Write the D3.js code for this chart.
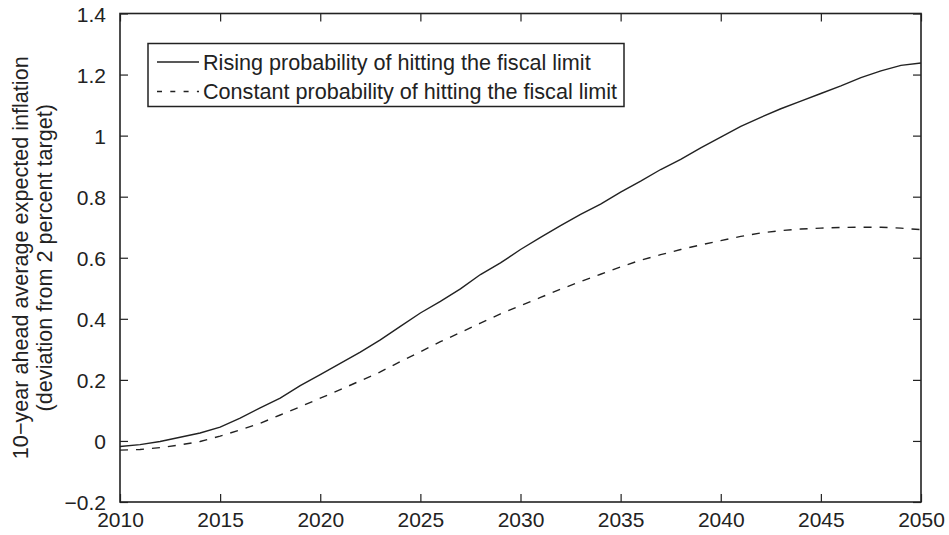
<!DOCTYPE html>
<html>
<head>
<meta charset="utf-8">
<script src="https://cdn.jsdelivr.net/npm/d3@7/dist/d3.min.js"></script>
<style>
  html, body { margin: 0; padding: 0; background: #fff; }
  svg { display: block; font-family: "Liberation Sans", Arial, Helvetica, sans-serif; }
</style>
</head>
<body>
<svg id="chart" width="949" height="535"></svg>
<script>
// ---- data ----
const years = d3.range(2010, 2051);
const rising = [
  -0.018, -0.012, -0.002, 0.012, 0.026, 0.045, 0.075, 0.108, 0.140, 0.181,
  0.217, 0.254, 0.291, 0.331, 0.375, 0.419, 0.457, 0.498, 0.545, 0.583,
  0.627, 0.667, 0.705, 0.742, 0.776, 0.815, 0.851, 0.889, 0.922, 0.960,
  0.995, 1.030, 1.060, 1.088, 1.113, 1.138, 1.163, 1.190, 1.212, 1.230,
  1.238
];
const constant = [
  -0.030, -0.028, -0.022, -0.013, -0.002, 0.016, 0.036, 0.058, 0.085, 0.112,
  0.140, 0.168, 0.197, 0.226, 0.260, 0.292, 0.325, 0.355, 0.386, 0.416,
  0.443, 0.470, 0.497, 0.522, 0.546, 0.570, 0.592, 0.610, 0.627, 0.642,
  0.656, 0.670, 0.681, 0.689, 0.694, 0.697, 0.699, 0.700, 0.700, 0.697,
  0.692
];
const xTicks = [2010, 2015, 2020, 2025, 2030, 2035, 2040, 2045, 2050];
const yTicks = [-0.2, 0, 0.2, 0.4, 0.6, 0.8, 1, 1.2, 1.4];
const seriesNames = [
  "Rising probability of hitting the fiscal limit",
  "Constant probability of hitting the fiscal limit"
];
const yLabelLines = [
  "10\u2212year ahead average expected inflation",
  "(deviation from 2 percent target)"
];

// ---- layout ----
const svg = d3.select("#chart");
const pL = 120, pR = 921, pT = 13.5, pB = 502;
const ink = "#222";
const tickFont = 21;
const labelFont = 21.6;

const x = d3.scaleLinear().domain([2010, 2050]).range([pL, pR]);
const y = d3.scaleLinear().domain([-0.2, 1.4]).range([pB, pT]);

const fmtY = v => (Math.abs(v) < 1e-9 ? "0" : String(+v.toFixed(1)).replace("-", "\u2212"));

// axes with inward ticks
const tickLen = 8;
const axBottom = d3.axisBottom(x).tickValues(xTicks).tickSize(-tickLen).tickPadding(10).tickFormat(d3.format("d"));
const axTop = d3.axisTop(x).tickValues(xTicks).tickSize(-tickLen).tickFormat("");
const axLeft = d3.axisLeft(y).tickValues(yTicks).tickSize(-tickLen).tickPadding(14).tickFormat(fmtY);
const axRight = d3.axisRight(y).tickValues(yTicks).tickSize(-tickLen).tickFormat("");

function styleAxis(g) {
  g.select(".domain").remove();
  g.selectAll(".tick line").attr("stroke", ink).attr("stroke-width", 1.2);
  g.selectAll("text").attr("fill", ink).attr("font-size", tickFont).attr("font-family", null);
}

svg.append("g").attr("transform", `translate(0,${pB})`).call(axBottom).call(styleAxis)
  .selectAll("text").attr("dy", "0.71em");
svg.append("g").attr("transform", `translate(0,${pT})`).call(axTop).call(styleAxis);
svg.append("g").attr("transform", `translate(${pL},0)`).call(axLeft).call(styleAxis)
  .selectAll("text").attr("dy", "0.36em");
svg.append("g").attr("transform", `translate(${pR},0)`).call(axRight).call(styleAxis);

// frame
svg.append("rect")
  .attr("x", pL).attr("y", pT)
  .attr("width", pR - pL).attr("height", pB - pT)
  .attr("fill", "none").attr("stroke", ink).attr("stroke-width", 1.6);

// lines
const line = d3.line().x((d, i) => x(years[i])).y(d => y(d));
svg.append("path").datum(rising)
  .attr("d", line).attr("fill", "none").attr("stroke", ink).attr("stroke-width", 1.4);
svg.append("path").datum(constant)
  .attr("d", line).attr("fill", "none").attr("stroke", ink).attr("stroke-width", 1.4)
  .attr("stroke-dasharray", "8,8");

// y label
const yl = svg.append("text")
  .attr("transform", `translate(27.5,${(pT + pB) / 2}) rotate(-90)`)
  .attr("text-anchor", "middle").attr("font-size", labelFont).attr("fill", ink);
yl.append("tspan").attr("x", 0).attr("y", 0).text(yLabelLines[0]);
yl.append("tspan").attr("x", 0).attr("y", 24.5).text(yLabelLines[1]);

// legend
const lg = svg.append("g");
lg.append("rect").attr("x", 148).attr("y", 43.5).attr("width", 476).attr("height", 63)
  .attr("fill", "#fff").attr("stroke", ink).attr("stroke-width", 1.5);
const rows = [
  { name: seriesNames[0], dash: null, yy: 62 },
  { name: seriesNames[1], dash: "5,8.3", yy: 91.5 }
];
rows.forEach(r => {
  lg.append("line").attr("x1", 157).attr("x2", 199).attr("y1", r.yy).attr("y2", r.yy)
    .attr("stroke", ink).attr("stroke-width", 1.3)
    .attr("stroke-dasharray", r.dash);
  lg.append("text").attr("x", 203).attr("y", r.yy).attr("dy", "0.36em")
    .attr("font-size", labelFont).attr("fill", ink).text(r.name);
});
</script>
</body>
</html>
